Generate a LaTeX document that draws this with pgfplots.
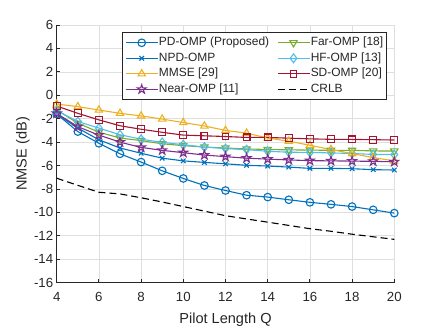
\documentclass[border=0pt]{standalone}
\usepackage{pgfplots}
\pgfplotsset{compat=1.18}
\usepackage{fontspec}
\setmainfont{Liberation Sans}
\definecolor{cblue}{HTML}{0072BD}
\definecolor{corange}{HTML}{EDB120}
\definecolor{cpurple}{HTML}{7E2F8E}
\definecolor{cgreen}{HTML}{77AC30}
\definecolor{ccyan}{HTML}{4DBEEE}
\definecolor{cred}{HTML}{A2142F}
\definecolor{axc}{HTML}{262626}
\definecolor{gridc}{HTML}{DFDFDF}
\pgfdeclareplotmark{pentagram}{%
  \pgfpathmoveto{\pgfpointpolar{90}{\pgfplotmarksize}}%
  \pgfpathlineto{\pgfpointpolar{126}{0.382*\pgfplotmarksize}}%
  \pgfpathlineto{\pgfpointpolar{162}{\pgfplotmarksize}}%
  \pgfpathlineto{\pgfpointpolar{198}{0.382*\pgfplotmarksize}}%
  \pgfpathlineto{\pgfpointpolar{234}{\pgfplotmarksize}}%
  \pgfpathlineto{\pgfpointpolar{270}{0.382*\pgfplotmarksize}}%
  \pgfpathlineto{\pgfpointpolar{306}{\pgfplotmarksize}}%
  \pgfpathlineto{\pgfpointpolar{342}{0.382*\pgfplotmarksize}}%
  \pgfpathlineto{\pgfpointpolar{18}{\pgfplotmarksize}}%
  \pgfpathlineto{\pgfpointpolar{54}{0.382*\pgfplotmarksize}}%
  \pgfpathclose\pgfusepathqstroke}
\begin{document}
\begin{tikzpicture}
\useasboundingbox (-56.7bp,-44.3bp) rectangle (379.3bp,282.7bp);
\begin{axis}[
  scale only axis, width=337.6bp, height=257.7bp,
  xmin=4, xmax=20, ymin=-16, ymax=6,
  xtick={4,6,...,20}, ytick={-16,-14,...,6},
  axis x line*=bottom, axis y line*=left,
  axis line style={-, draw=axc, line width=0.9bp},
  tick align=inside, major tick length=3.4bp,
  tick style={draw=axc, line width=0.9bp},
  grid=major, major grid style={draw=gridc, line width=0.7bp},
  /pgf/number format/assume math mode=true,
  tick label style={font=\fontsize{13.3}{16}\selectfont, text=axc},
  xticklabel style={yshift=-6bp},
  xlabel={Pilot Length Q}, ylabel={NMSE (dB)},
  label style={font=\fontsize{14.6}{17}\selectfont, text=axc},
  xlabel style={at={(axis description cs:0.5,-0.1591)}, anchor=base},
  ylabel style={at={(axis description cs:-0.0889,0.5)}, anchor=base, rotate=0},
  legend columns=2, legend cell align=left,
  legend style={at={(axis description cs:0.9793,0.9717)}, anchor=north east,
    draw=axc, line width=0.9bp, fill=white, inner xsep=3bp, inner ysep=2.3bp,
    font=\fontsize{12}{14}\selectfont, text=axc,
    nodes={inner xsep=0.7bp, inner ysep=1.5bp, text height=9bp, text depth=3.5bp},
    column sep=0pt, /tikz/every even column/.append style={column sep=7bp}},
  legend image code/.code={\draw[mark repeat=2,mark phase=2] plot coordinates {(0bp,0bp) (16bp,0bp) (32bp,0bp)};},
  every axis plot/.append style={line width=1.1bp},
]
% PD-OMP
\addplot[cblue, mark=o, mark size=3.8bp] coordinates {
(4,-1.6) (5,-3.1) (6,-4.1) (7,-5.0) (8,-5.7) (9,-6.45) (10,-7.1) (11,-7.7) (12,-8.13)
(13,-8.53) (14,-8.69) (15,-8.92) (16,-9.14) (17,-9.31) (18,-9.5) (19,-9.78) (20,-10.06)};
\addlegendentry{PD-OMP (Proposed)}
% Far-OMP
\addplot[cgreen, mark=triangle, mark size=4.2bp, mark options={rotate=180}] coordinates {
(4,-1.25) (5,-2.38) (6,-3.15) (7,-3.65) (8,-3.87) (9,-4.14) (10,-4.3) (11,-4.42) (12,-4.5)
(13,-4.58) (14,-4.63) (15,-4.66) (16,-4.68) (17,-4.7) (18,-4.7) (19,-4.75) (20,-4.76)};
\addlegendentry{Far-OMP [18]}
% NPD-OMP
\addplot[cblue, mark=x, mark size=3.2bp] coordinates {
(4,-1.6) (5,-2.8) (6,-3.8) (7,-4.5) (8,-4.95) (9,-5.37) (10,-5.6) (11,-5.73) (12,-5.85)
(13,-5.98) (14,-6.04) (15,-6.13) (16,-6.24) (17,-6.24) (18,-6.27) (19,-6.35) (20,-6.38)};
\addlegendentry{NPD-OMP}
% HF-OMP
\addplot[ccyan, mark=diamond, mark size=4.4bp] coordinates {
(4,-1.3) (5,-2.24) (6,-2.8) (7,-3.37) (8,-3.75) (9,-4.02) (10,-4.22) (11,-4.42) (12,-4.55)
(13,-4.64) (14,-4.78) (15,-4.86) (16,-4.88) (17,-4.92) (18,-4.97) (19,-5.05) (20,-5.06)};
\addlegendentry{HF-OMP [13]}
% MMSE
\addplot[corange, mark=triangle, mark size=4.2bp] coordinates {
(4,-0.75) (5,-0.97) (6,-1.26) (7,-1.54) (8,-1.76) (9,-2.03) (10,-2.33) (11,-2.62) (12,-3.0)
(13,-3.23) (14,-3.65) (15,-3.92) (16,-4.27) (17,-4.63) (18,-4.98) (19,-5.32) (20,-5.6)};
\addlegendentry{MMSE [29]}
% SD-OMP
\addplot[cred, mark=square, mark size=3.4bp] coordinates {
(4,-0.92) (5,-1.54) (6,-2.1) (7,-2.6) (8,-2.9) (9,-3.16) (10,-3.4) (11,-3.46) (12,-3.52)
(13,-3.6) (14,-3.6) (15,-3.66) (16,-3.72) (17,-3.76) (18,-3.77) (19,-3.79) (20,-3.82)};
\addlegendentry{SD-OMP [20]}
% Near-OMP
\addplot[cpurple, mark=pentagram, mark size=4.6bp] coordinates {
(4,-1.55) (5,-2.68) (6,-3.4) (7,-4.0) (8,-4.45) (9,-4.7) (10,-4.9) (11,-5.1) (12,-5.24)
(13,-5.37) (14,-5.45) (15,-5.52) (16,-5.58) (17,-5.6) (18,-5.62) (19,-5.64) (20,-5.68)};
\addlegendentry{Near-OMP [11]}
% CRLB
\addplot[black, dash pattern=on 7bp off 4bp, no marks] coordinates {
(4,-7.08) (5,-7.69) (6,-8.28) (7,-8.42) (8,-8.75) (9,-9.11) (10,-9.5) (11,-9.89) (12,-10.28)
(13,-10.56) (14,-10.83) (15,-11.11) (16,-11.39) (17,-11.61) (18,-11.86) (19,-12.08) (20,-12.3)};
\addlegendentry{CRLB}
\end{axis}
\end{tikzpicture}
\end{document}
